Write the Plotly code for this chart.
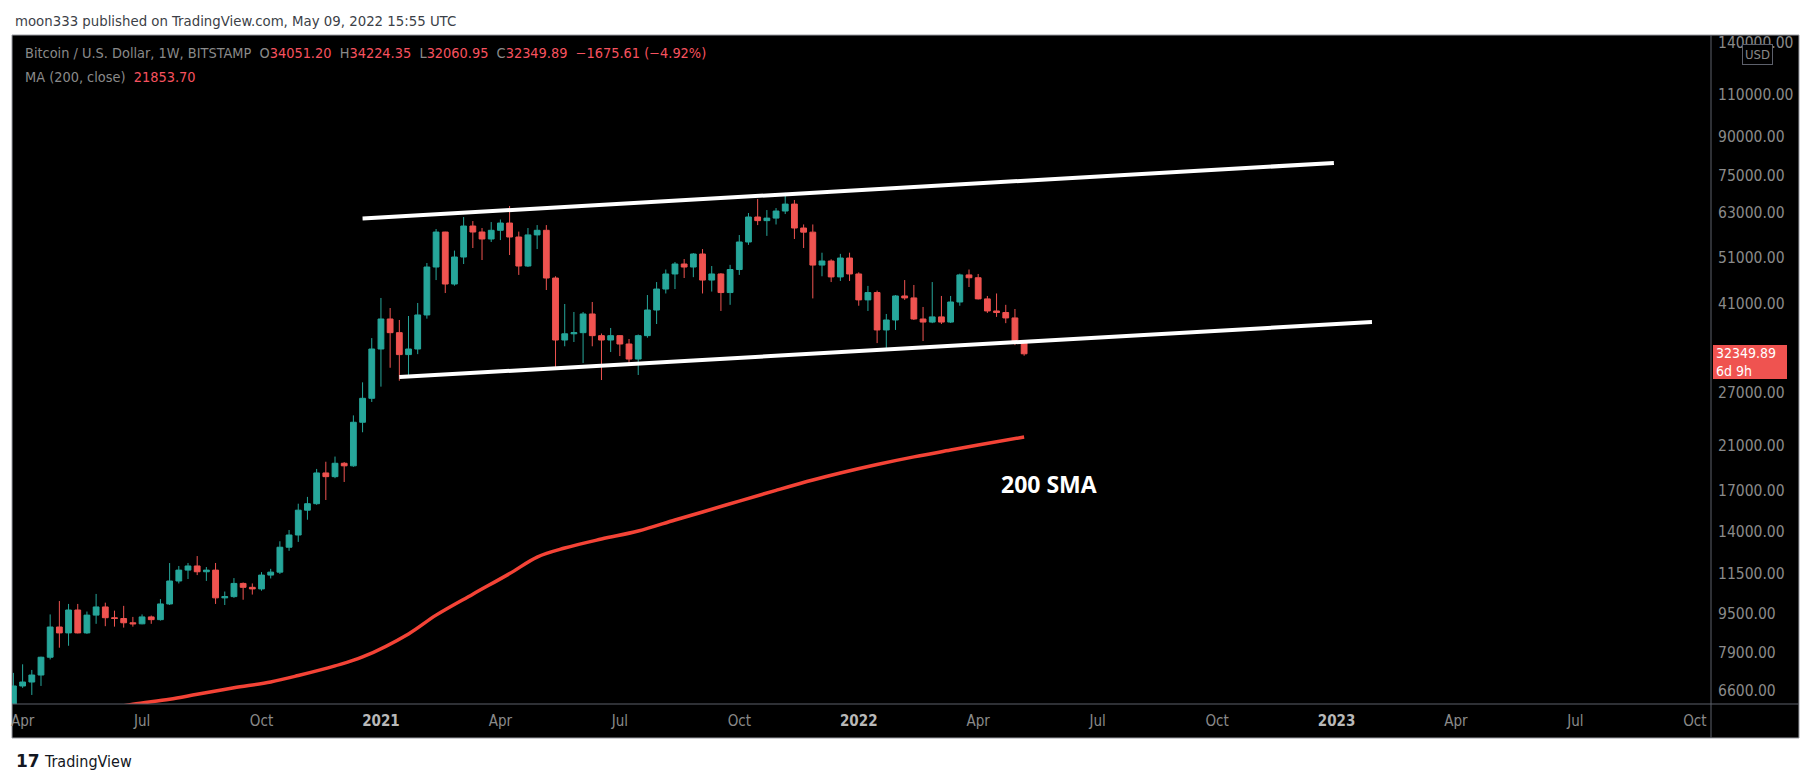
import numpy as np
import pandas as pd
import plotly.graph_objects as go

# weekly BTC/USD candles (Bitstamp)
week_start = pd.date_range("2020-03-30", "2022-05-09", freq="W-MON")

open_ = [5880, 6759, 6886, 7117, 7740, 8925, 8680, 9670, 8680, 9440,
         9810, 9325, 9290, 9105, 9060, 9360, 9240, 9950, 11087, 11670,
         11900, 11580, 11670, 10240, 10300, 10960, 10760, 10680, 11400, 11560,
         13000, 13770, 15480, 15960, 18450, 18130, 19310, 19080, 23430, 26230,
         33090, 38120, 35740, 32230, 33090, 38850, 48700, 57430, 44950, 51050,
         59080, 57440, 55580, 57900, 59920, 56100, 48930, 56660, 57900, 46240,
         34520, 35550, 35740, 39030, 35240, 34520, 35240, 33880, 31560, 35240,
         39770, 43900, 47130, 49400, 48700, 51780, 45800, 47130, 43180, 48130,
         54800, 61650, 60600, 61330, 63410, 65520, 58530, 57400, 49150, 50100,
         46480, 50810, 47130, 41710, 43180, 36200, 37940, 42490, 42100, 38120,
         37570, 38500, 37570, 41300, 46920, 46300, 41910, 39590, 39300, 38310,
         34051.20]
high = [7190, 7486, 7290, 7760, 9470, 10087, 9950, 9950, 9600, 10430,
        10010, 9640, 9860, 9360, 9470, 9420, 10180, 12066, 11900, 12070,
        12470, 11840, 12070, 10550, 11240, 11010, 10960, 11560, 11740, 13370,
        14100, 15960, 16480, 18800, 19450, 19930, 19420, 24200, 28280, 34840,
        42090, 40140, 37940, 38660, 41110, 49630, 58250, 57500, 52620, 61650,
        60480, 58530, 60200, 60930, 64920, 57550, 58530, 59350, 59350, 46620,
        40910, 39400, 39400, 41300, 35600, 36540, 35300, 34690, 35430, 42680,
        45370, 48130, 49860, 50570, 52000, 53000, 48930, 47330, 49200, 56630,
        62820, 67120, 63700, 64300, 69100, 66800, 59520, 59520, 52100, 50500,
        51810, 52100, 47500, 44550, 43580, 39030, 42680, 45800, 44750, 40340,
        45370, 42490, 42490, 47200, 48130, 47130, 42490, 42990, 40750, 39960,
        34224.35]
low = [5860, 6700, 6479, 6760, 7660, 8096, 8170, 8660, 8640, 9060,
       8960, 8940, 8900, 8940, 9040, 9060, 9200, 9900, 10960, 11190,
       11400, 11090, 9950, 9900, 10240, 10150, 10400, 10590, 11220, 11460,
       12780, 13330, 14800, 15880, 16240, 18000, 17680, 18990, 22350, 25780,
       27710, 30290, 28500, 29230, 32300, 38180, 45800, 43080, 44600, 49400,
       53260, 50340, 54800, 55300, 51530, 46920, 48700, 53000, 43700, 30110,
       33520, 34200, 30970, 33520, 28590, 32620, 32010, 30970, 29280, 34900,
       37230, 42990, 43900, 46240, 46430, 42990, 43380, 39590, 40750, 46920,
       54060, 59350, 56400, 59520, 62510, 55580, 53260, 42000, 46620, 45370,
       45600, 45600, 40580, 39590, 34030, 32930, 36200, 41710, 37940, 34360,
       37380, 37230, 37400, 40580, 44320, 41800, 39220, 38500, 37380, 33700,
       32060.95]
close = [6759, 6886, 7117, 7740, 8925, 8680, 9670, 8680, 9440, 9810,
         9325, 9290, 9105, 9060, 9360, 9240, 9950, 11087, 11670, 11900,
         11580, 11670, 10240, 10300, 10960, 10760, 10680, 11400, 11560, 13000,
         13770, 15480, 15960, 18450, 18130, 19310, 19080, 23430, 26230, 33090,
         38120, 35740, 32230, 33090, 38850, 48700, 57430, 44950, 51050, 59080,
         57440, 55580, 57900, 59920, 56100, 48930, 56660, 57900, 46240, 34520,
         35550, 35740, 39030, 35240, 34520, 35240, 33880, 31560, 35240, 39770,
         43900, 47130, 49400, 48700, 51780, 45800, 47130, 43180, 48130, 54800,
         61650, 60600, 61330, 63410, 65520, 58530, 57400, 49150, 50100, 46480,
         50810, 47130, 41710, 43180, 36200, 37940, 42490, 42100, 38120, 37570,
         38500, 37570, 41300, 46920, 46300, 41910, 39590, 39300, 38310, 34025.50,
         32349.89]

# 200 week SMA
sma_dates = ["2020-06-01", "2020-06-29", "2020-07-27", "2020-08-17", "2020-09-14",
             "2020-10-12", "2020-11-02", "2020-11-30", "2020-12-21", "2021-01-25",
             "2021-02-15", "2021-03-15", "2021-04-12", "2021-05-03", "2021-05-24",
             "2021-06-21", "2021-07-19", "2021-08-16", "2021-09-06", "2021-10-04",
             "2021-11-01", "2021-11-29", "2021-12-20", "2022-01-17", "2022-02-14",
             "2022-03-14", "2022-04-04", "2022-05-09"]
sma_vals = [6020, 6200, 6350, 6500, 6700,
            6890, 7100, 7430, 7750, 8640,
            9440, 10420, 11480, 12410, 12950,
            13510, 14030, 14780, 15350, 16160,
            17000, 17850, 18450, 19200, 19900,
            20550, 21050, 21853.70]

# user-drawn channel
upper_dates = ["2020-12-21", "2022-12-31"]
upper_vals = [61210, 79530]
lower_dates = ["2021-01-18", "2023-01-29"]
lower_vals = [28995, 37580]

y_ticks = [6600, 7900, 9500, 11500, 14000, 17000, 21000, 27000,
           41000, 51000, 63000, 75000, 90000, 110000, 140000]
x_tick_dates = ["2020-04-06", "2020-07-06", "2020-10-05", "2021-01-04",
                "2021-04-05", "2021-07-05", "2021-10-04", "2022-01-03",
                "2022-04-04", "2022-07-04", "2022-10-03", "2023-01-02",
                "2023-04-03", "2023-07-03", "2023-10-02"]
x_tick_labels = ["Apr", "Jul", "Oct", "2021", "Apr", "Jul", "Oct", "2022",
                 "Apr", "Jul", "Oct", "2023", "Apr", "Jul", "Oct"]

UP = "#26a69a"
DOWN = "#ef5350"
TXT = "#8a8a8a"
FONT = "Liberation Sans Narrow, DejaVu Sans Condensed, Roboto Condensed, Roboto, sans-serif"

# the page body has an 8px margin, so the figure is a bit smaller than the window
W, H = 1805, 775
L, R, T, B = 4, 102, 27, 79
pw, ph = W - L - R, H - T - B
frame_x1 = 1787 / pw
frame_y0 = -34 / ph

fig = go.Figure()

fig.add_trace(go.Scatter(x=sma_dates, y=sma_vals, mode="lines",
                         line=dict(color="#f44336", width=3.5, shape="spline", smoothing=1.0),
                         hoverinfo="skip"))
fig.add_trace(go.Candlestick(x=week_start, open=open_, high=high, low=low, close=close,
                             increasing=dict(line=dict(color=UP, width=1), fillcolor=UP),
                             decreasing=dict(line=dict(color=DOWN, width=1), fillcolor=DOWN)))
for xs, ys in [(upper_dates, upper_vals), (lower_dates, lower_vals)]:
    fig.add_trace(go.Scatter(x=xs, y=ys, mode="lines",
                             line=dict(color="white", width=4), hoverinfo="skip"))

ticktext = []
for lab in x_tick_labels:
    if lab.isdigit():
        ticktext.append("<b><span style='color:#b8b8b8'>%s</span></b>" % lab)
    else:
        ticktext.append(lab)

fig.update_layout(
    width=W, height=H,
    margin=dict(l=L, r=R, t=T, b=B, pad=0),
    paper_bgcolor="white", plot_bgcolor="black",
    showlegend=False,
    boxgap=0.1,
    font=dict(family=FONT, size=13, color=TXT),
    xaxis=dict(type="date", range=["2020-03-28 22:00", "2023-10-14 07:00"],
               tickvals=x_tick_dates, ticktext=ticktext,
               showgrid=False, zeroline=False, showline=False,
               ticks="outside", ticklen=3, tickcolor="rgba(0,0,0,0)",
               tickfont=dict(size=15, color=TXT),
               rangeslider=dict(visible=False)),
    yaxis=dict(type="log", side="right", range=[3.7930, 5.1625],
               tickvals=y_ticks, ticktext=["%.2f" % v for v in y_ticks],
               showgrid=False, zeroline=False, showline=False,
               ticks="outside", ticklen=3, tickcolor="rgba(0,0,0,0)",
               tickfont=dict(size=15.5, color=TXT)),
)

# black chart frame with separators
fig.add_shape(type="rect", xref="paper", yref="paper", x0=0, x1=frame_x1, y0=frame_y0, y1=1,
              fillcolor="black", line=dict(color="#9a9ca3", width=1), layer="below")
fig.add_shape(type="line", xref="paper", yref="paper", x0=1, x1=1, y0=frame_y0, y1=1,
              line=dict(color="#5d606b", width=1))
fig.add_shape(type="line", xref="paper", yref="paper", x0=0, x1=frame_x1, y0=0, y1=0,
              line=dict(color="#5d606b", width=1))

red = "#f7525f"
chg = close[-1] - close[-2]
pct = chg / close[-2] * 100


def rv(v):
    return "<span style='color:%s'>%s</span>" % (red, v)


sp = "\u00a0\u00a0"
leg1 = ("Bitcoin / U.S. Dollar, 1W, BITSTAMP" + sp +
        "O" + rv("%.2f" % open_[-1]) + sp + "H" + rv("%.2f" % high[-1]) + sp +
        "L" + rv("%.2f" % low[-1]) + sp + "C" + rv("%.2f" % close[-1]) + sp +
        rv("\u2212%.2f (\u2212%.2f%%)" % (abs(chg), abs(pct))))
leg2 = "MA (200, close)" + sp + rv("%.2f" % sma_vals[-1])

fig.add_annotation(text="moon333 published on TradingView.com, May 09, 2022 15:55 UTC",
                   xref="paper", yref="paper", x=0, y=1, xshift=1, yshift=15,
                   xanchor="left", yanchor="middle", showarrow=False,
                   font=dict(size=14.8, color="#3c3f47"))
fig.add_annotation(text=leg1, xref="paper", yref="paper", x=0, y=1, xshift=11, yshift=-18,
                   xanchor="left", yanchor="middle", showarrow=False,
                   font=dict(size=14.4, color=TXT))
fig.add_annotation(text=leg2, xref="paper", yref="paper", x=0, y=1, xshift=11, yshift=-42,
                   xanchor="left", yanchor="middle", showarrow=False,
                   font=dict(size=14.4, color=TXT))

fig.add_annotation(text="<b>200 SMA</b>", x="2022-05-28", y=np.log10(17515),
                   xref="x", yref="y", showarrow=False,
                   font=dict(family="Open Sans, DejaVu Sans, sans-serif", size=23, color="white"))

fig.add_annotation(text="%.2f<br>6d 9h" % close[-1], xref="paper", yref="y",
                   x=1, y=np.log10(close[-1]), xshift=2, yshift=9,
                   xanchor="left", yanchor="top", align="left",
                   width=68, height=28, borderpad=3, borderwidth=0, bgcolor=DOWN,
                   showarrow=False, font=dict(size=14, color="white"))
fig.add_annotation(text="USD", xref="paper", yref="paper", x=1, y=1, xshift=46, yshift=-19,
                   xanchor="center", yanchor="middle", showarrow=False,
                   bgcolor="black", bordercolor="#5d606b", borderwidth=1, borderpad=2,
                   font=dict(size=13, color=TXT))

fig.add_annotation(text="<b>17</b>", xref="paper", yref="paper", x=0, y=0, xshift=2, yshift=-57,
                   xanchor="left", yanchor="middle", showarrow=False,
                   font=dict(family="DejaVu Sans, sans-serif", size=17, color="#131722"))
fig.add_annotation(text="TradingView", xref="paper", yref="paper", x=0, y=0, xshift=30, yshift=-57,
                   xanchor="left", yanchor="middle", showarrow=False,
                   font=dict(size=16, color="#131722"))

fig.write_html("out.html")
